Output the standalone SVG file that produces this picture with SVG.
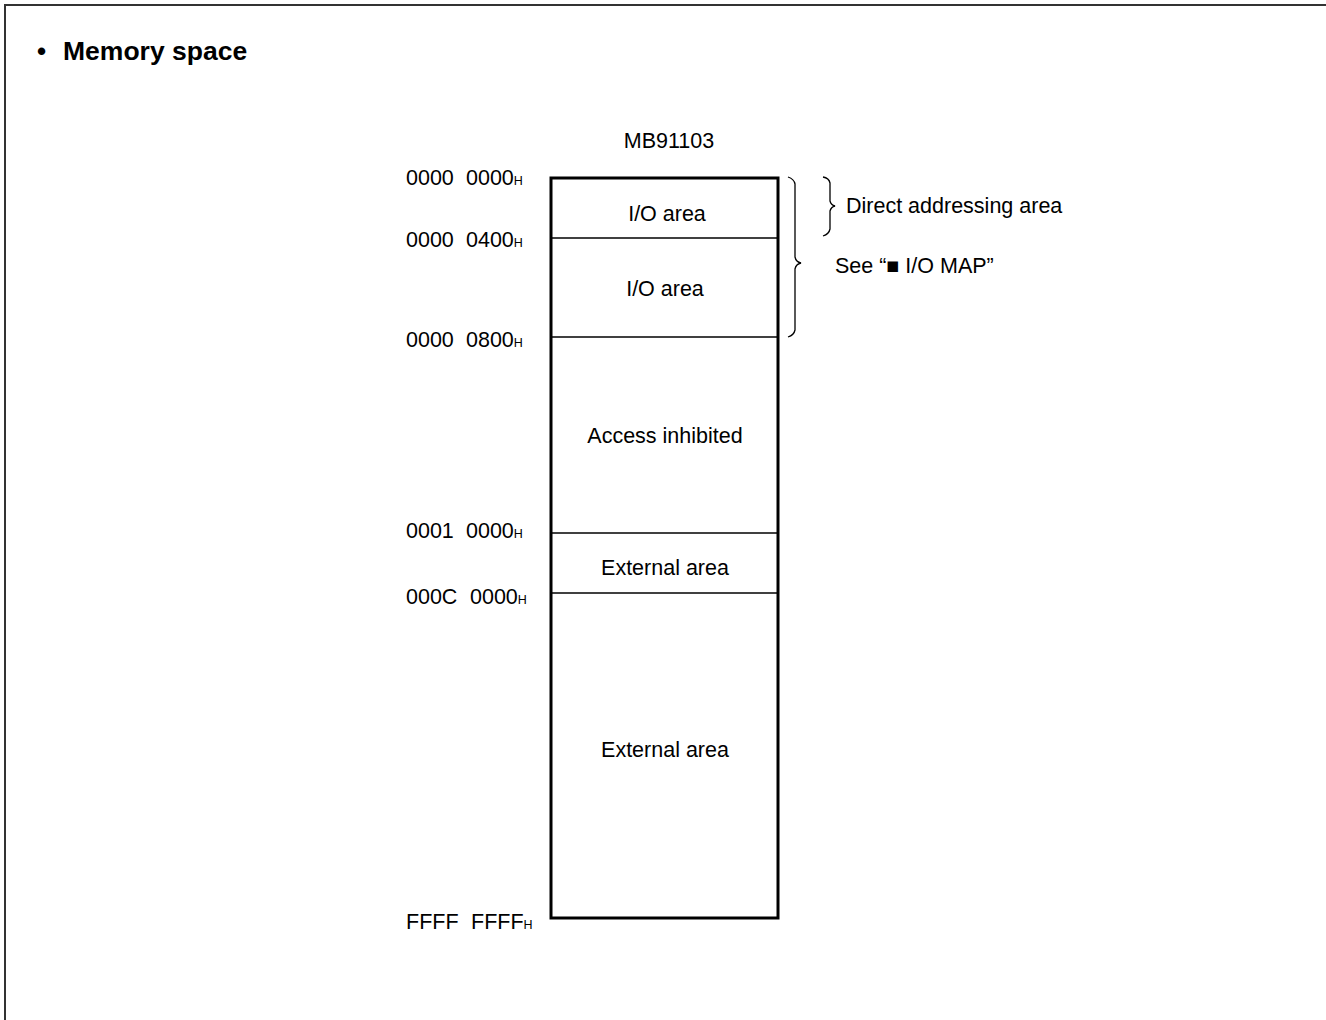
<svg xmlns="http://www.w3.org/2000/svg" width="1326" height="1020" viewBox="0 0 1326 1020">
<style>
.t{font-family:"Liberation Sans",Arial,sans-serif;font-size:21.5px;fill:#000}
.c{text-anchor:middle}
.s{font-size:12.5px}
.d{stroke:#000;stroke-width:1.6;fill:none}
.b{stroke:#000;stroke-width:1.3;fill:none}
</style>
<rect width="1326" height="1020" fill="#fff"/>
<path d="M5 1020 V5 H1326" stroke="#333" stroke-width="2" fill="none"/>
<text x="37" y="60" font-family="Liberation Sans,Arial,sans-serif" font-size="26" font-weight="bold">•</text>
<text x="63" y="60" font-family="Liberation Sans,Arial,sans-serif" font-size="26.5" font-weight="bold">Memory space</text>
<text class="t c" x="669" y="148">MB91103</text>
<g id="memmap">
<rect x="551" y="178" width="227" height="740" fill="#fff" stroke="#000" stroke-width="3"/>
</g>
<g id="io1"><line class="d" x1="551" y1="238" x2="778" y2="238"/><text class="t c" x="667" y="221">I/O area</text></g>
<g id="io2"><line class="d" x1="551" y1="337" x2="778" y2="337"/><text class="t c" x="665" y="296">I/O area</text></g>
<g id="inhibit"><line class="d" x1="551" y1="533" x2="778" y2="533"/><text class="t c" x="665" y="443">Access inhibited</text></g>
<g id="ext1"><line class="d" x1="551" y1="593" x2="778" y2="593"/><text class="t c" x="665" y="575">External area</text></g>
<g id="ext2"><text class="t c" x="665" y="757">External area</text></g>
<g id="addrs">
<text class="t" x="406" y="185">0000<tspan x="466">0000</tspan><tspan class="s">H</tspan></text>
<text class="t" x="406" y="247">0000<tspan x="466">0400</tspan><tspan class="s">H</tspan></text>
<text class="t" x="406" y="347">0000<tspan x="466">0800</tspan><tspan class="s">H</tspan></text>
<text class="t" x="406" y="538">0001<tspan x="466">0000</tspan><tspan class="s">H</tspan></text>
<text class="t" x="406" y="604">000C<tspan x="470">0000</tspan><tspan class="s">H</tspan></text>
<text class="t" x="406" y="929">FFFF<tspan x="471">FFFF</tspan><tspan class="s">H</tspan></text>
</g>
<g id="connectors">
<path class="b" d="M788 177 Q794 179 795 184 V257 Q796 262 801 263 Q796 264 795 269 V330 Q794 335 788 337"/>
<path class="b" d="M823 177 Q829 178 830 183 V201 Q831 205 835 206 Q831 207 830 211 V229 Q829 234 823 236"/>
</g>
<g id="notes">
<text class="t" x="846" y="213">Direct addressing area</text>
<text class="t" x="835" y="273">See “■ I/O MAP”</text>
</g>
</svg>
